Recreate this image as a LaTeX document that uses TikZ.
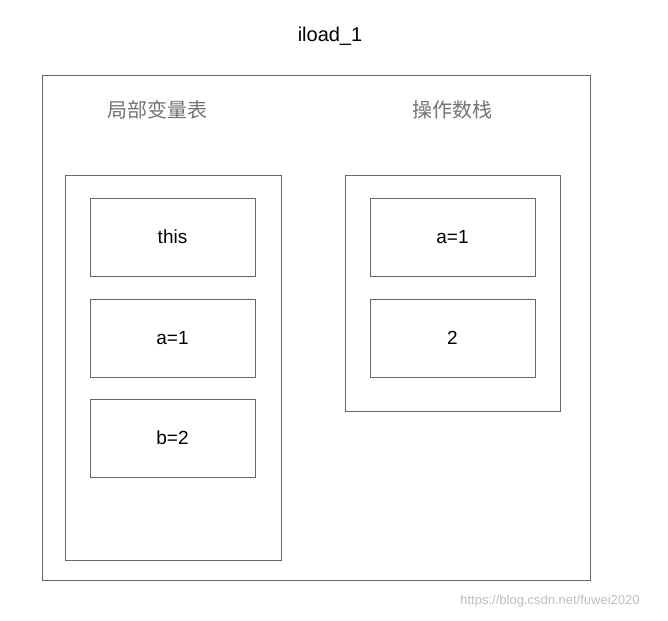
\documentclass[tikz,border=0pt]{standalone}
\usepackage{fontspec}
\setmainfont{Liberation Sans}
\newfontfamily\cjk{Noto Sans CJK SC}
\begin{document}
\begin{tikzpicture}[x=1pt,y=-1pt,
  frame/.style={draw=black!60,line width=0.8pt},
  cell/.style={draw=black!60,line width=0.8pt,minimum width=165pt,minimum height=78pt,font=\fontsize{19}{22}\selectfont,inner sep=0pt},
  head/.style={text=black!55,font=\cjk\fontsize{20}{24}\selectfont}]
\useasboundingbox (0,0) rectangle (668,620);
\fill[white] (0,0) rectangle (668,620);
\node (title) at (330,36) {\fontsize{20}{24}\selectfont iload\_1};
\draw[frame] (42,75) rectangle (590,580);
\node[head] (lvt) at (157,110) {局部变量表};
\node[head] (ops) at (452,110) {操作数栈};
\draw[frame] (65,175) rectangle (281,560);
\draw[frame] (345,175) rectangle (560,411);
\node[cell] (this) at (172.5,237) {this};
\node[cell] (a) at (172.5,338) {a=1};
\node[cell] (b) at (172.5,438) {b=2};
\node[cell] (sa) at (452.5,237) {a=1};
\node[cell] (s2) at (452.5,338) {2};
\node[text=black!25,font=\fontsize{13}{15}\selectfont] (wm) at (550,601) {https://blog.csdn.net/fuwei2020};
\end{tikzpicture}
\end{document}
